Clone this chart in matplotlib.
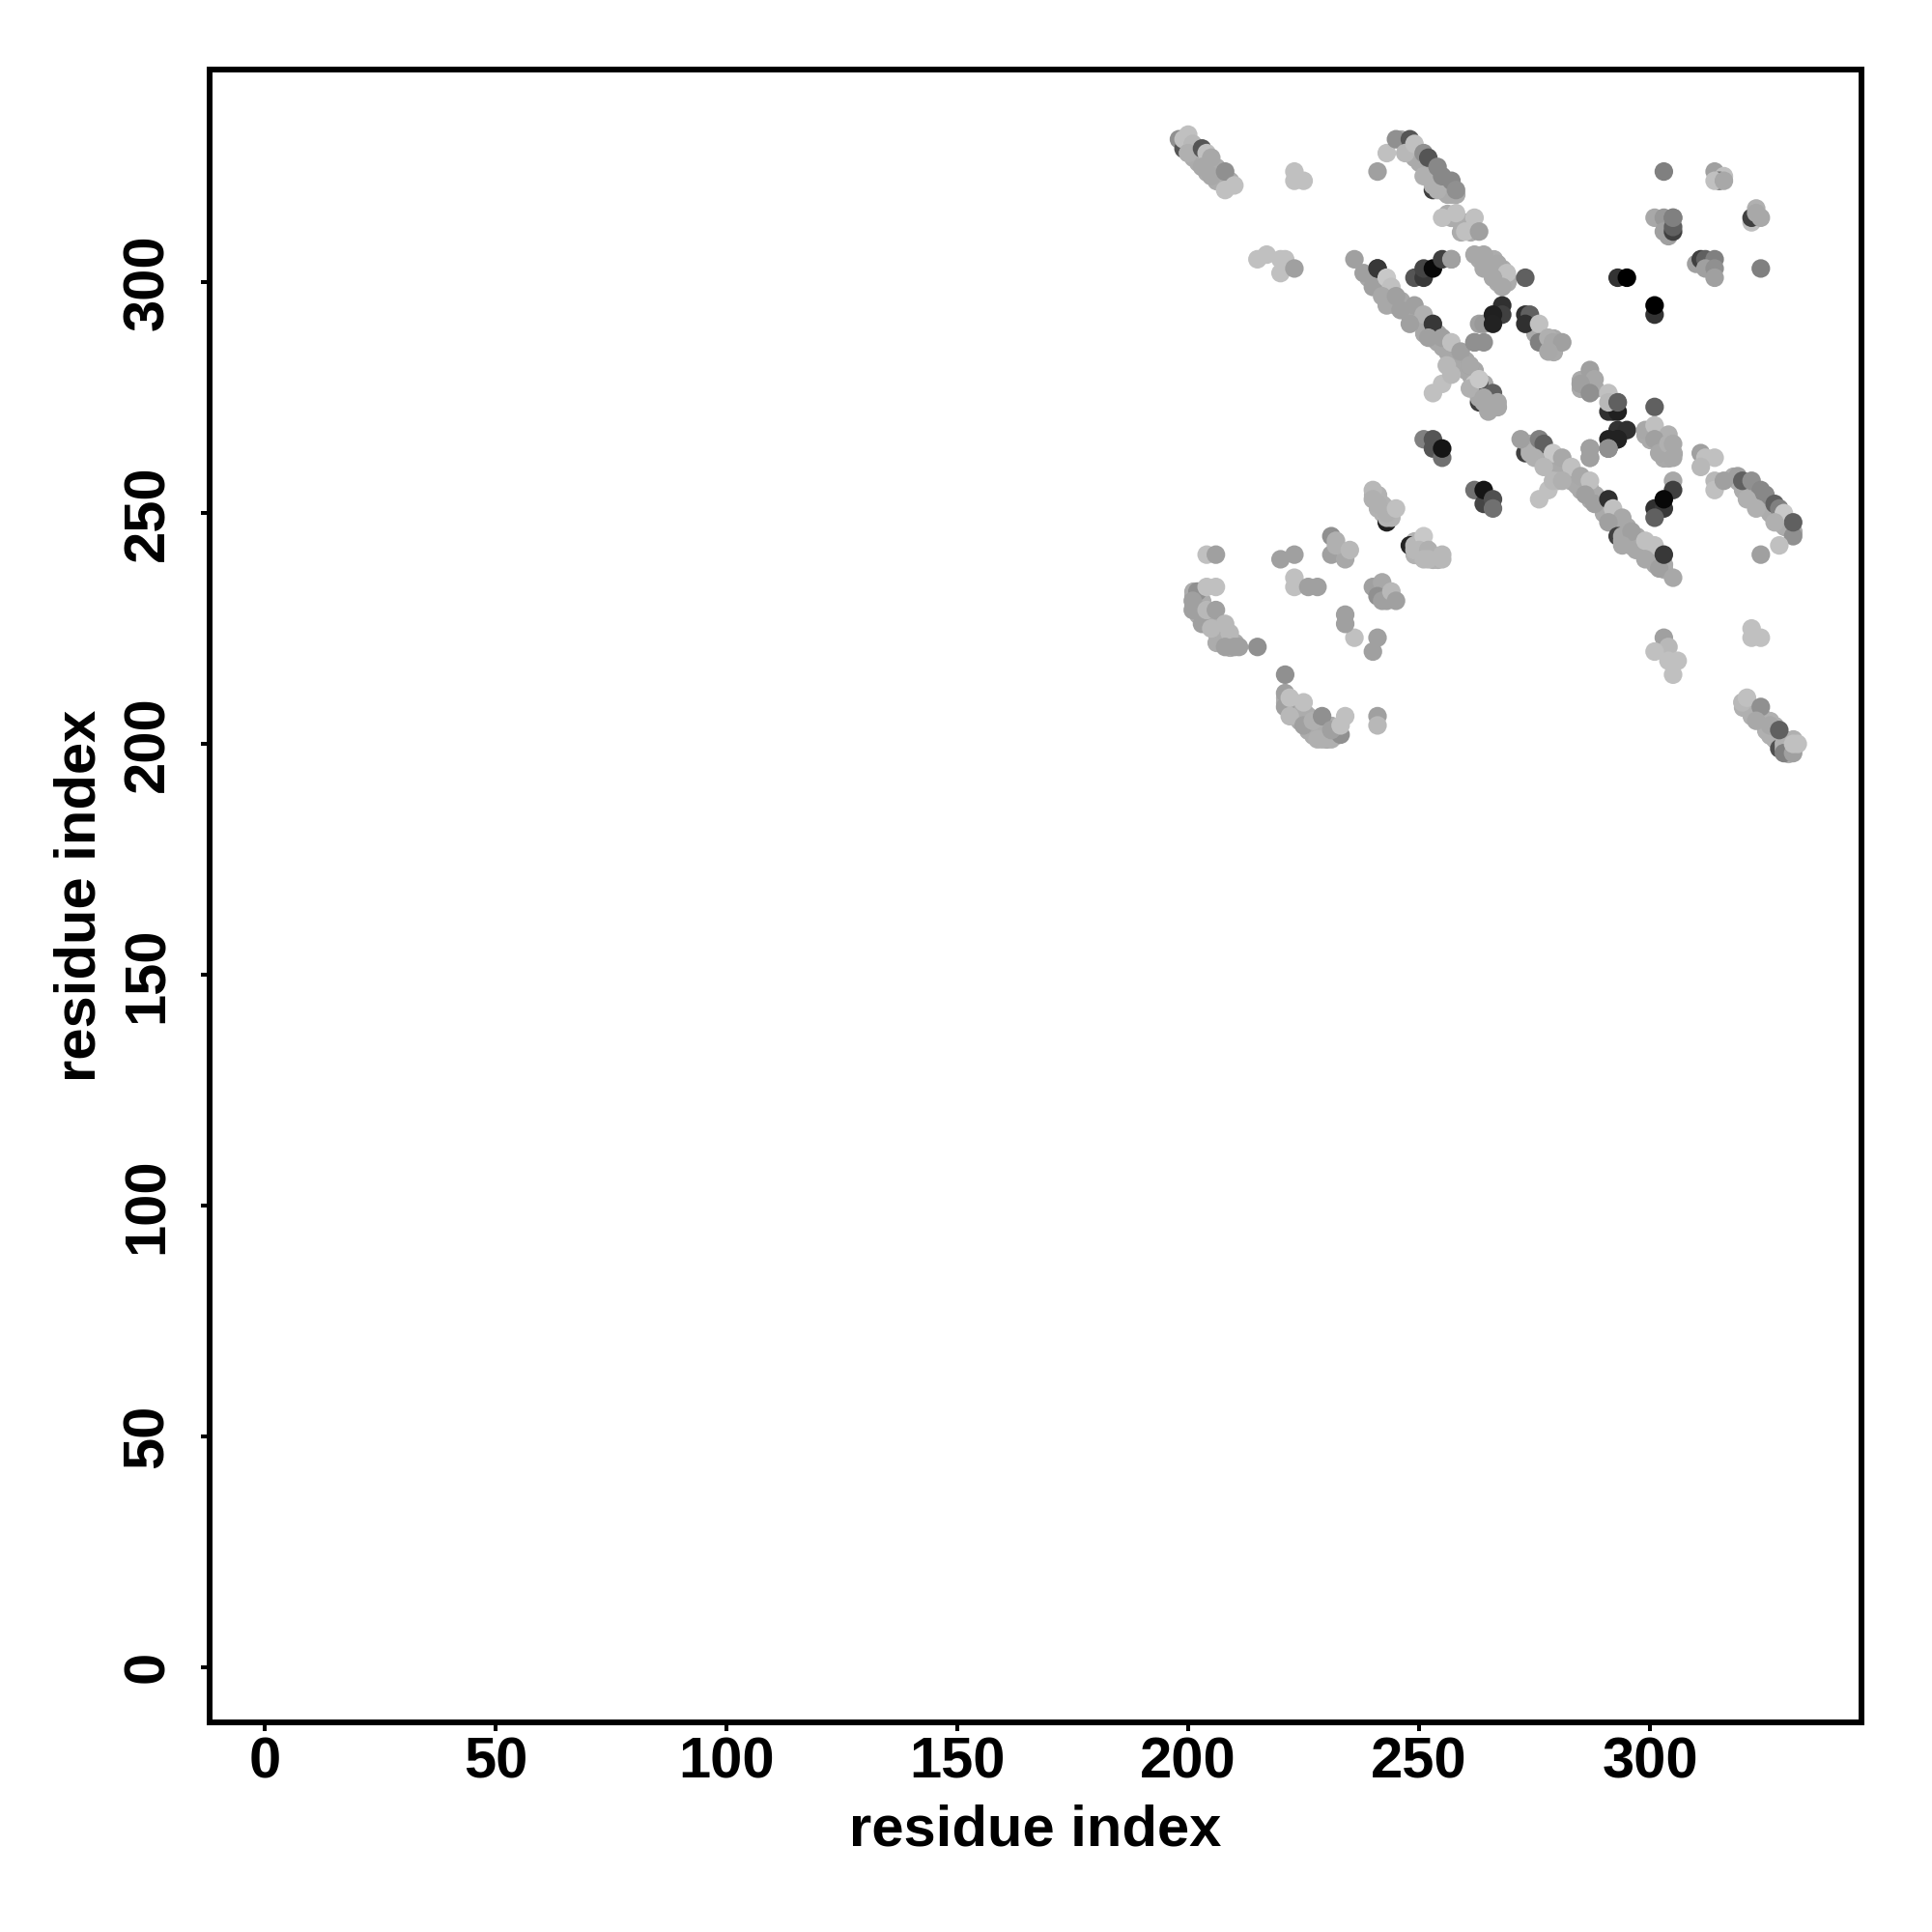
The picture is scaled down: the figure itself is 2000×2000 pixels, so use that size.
import matplotlib
matplotlib.use("Agg")
import matplotlib.pyplot as plt

plt.rcParams['font.family'] = ['Liberation Sans', 'DejaVu Sans']
plt.rcParams['font.weight'] = 'bold'

# contact points: residue x, residue y, grey level (0-255)
# top left strand
x_a = [198, 199, 199, 200, 200, 201, 200, 203, 204, 205, 203, 205, 208, 208, 210]
y_a = [331, 329, 331, 328, 332, 330, 328, 329, 328, 327, 325, 323, 324, 320, 321]
g_a = [144, 85, 192, 176, 192, 184, 176, 85, 192, 168, 168, 168, 144, 192, 192]

# small groups along the top
x_b = [223, 223, 225, 215, 217, 220, 221, 220, 223]
y_b = [324, 322, 322, 305, 306, 305, 305, 302, 303]
g_b = [192, 192, 192, 192, 192, 192, 192, 192, 160]

# upper strand 241-258
x_c = [253, 254, 241, 243, 245, 248, 247, 249, 251, 252, 251, 253, 254, 255, 257, 258]
y_c = [320, 320, 324, 328, 331, 331, 328, 330, 328, 327, 323, 321, 325, 323, 322, 320]
g_c = [64, 176, 160, 192, 144, 85, 184, 192, 144, 85, 176, 176, 136, 136, 136, 144]

x_d = [255, 258, 260, 262, 263, 257, 262, 264, 267, 269, 268, 264, 266, 273]
y_d = [314, 315, 311, 314, 311, 305, 306, 306, 304, 302, 299, 303, 301, 301]
g_d = [192, 192, 192, 192, 160, 160, 168, 168, 168, 192, 168, 168, 168, 96]

# main diagonal, upper half
x_e = [236, 241, 238, 240, 241, 243, 244, 242, 243, 245, 246, 249, 251, 248, 253,
       252, 255, 257, 259, 261, 256, 262, 263, 263, 264, 263, 253, 255, 257, 262, 263, 266,
       261, 264, 261, 263, 267, 265]
y_e = [305, 303, 302, 299, 303, 301, 299, 297, 295, 297, 294, 295, 293, 291, 291,
       288, 288, 287, 285, 282, 282, 287, 291, 274, 274, 275, 276, 278, 280, 278, 278, 276,
       277, 275, 282, 279, 274, 272]
g_e = [160, 56, 160, 160, 56, 200, 192, 168, 168, 160, 160, 160, 176, 160, 56,
       160, 160, 192, 160, 160, 184, 144, 160, 64, 168, 168, 192, 192, 184, 200, 85, 96,
       176, 168, 168, 200, 168, 168]

# dark groups
x_f = [249, 251, 251, 253, 255, 257, 293, 295, 301, 301, 264, 268, 268, 266, 266,
       262, 264, 303, 292, 293, 293, 295, 291, 293, 291, 293, 291, 287, 287]
y_f = [301, 301, 303, 303, 305, 305, 301, 301, 293, 295, 291, 295, 293, 293, 291,
       287, 287, 324, 272, 274, 268, 268, 264, 266, 266, 266, 264, 264, 262]
g_f = [85, 56, 69, 8, 64, 160, 51, 0, 51, 0, 153, 48, 64, 32, 34,
       144, 144, 128, 32, 96, 51, 48, 144, 34, 34, 34, 144, 160, 160]

# upper right scattered groups
x_g = [314, 316, 315, 314, 316, 322, 322, 323, 323, 324, 301, 303, 305, 303, 304, 305, 305, 305,
       310, 311, 312, 314, 312, 314, 314, 324, 301]
y_g = [324, 323, 322, 322, 322, 313, 314, 316, 315, 314, 314, 314, 314, 311, 310, 311, 312, 314,
       304, 305, 305, 305, 303, 303, 301, 303, 273]
g_g = [160, 192, 96, 192, 168, 192, 64, 176, 168, 168, 168, 152, 128, 160, 160, 64, 96, 128,
       160, 64, 96, 128, 160, 144, 160, 128, 96]

x_h = [273, 274, 273, 276, 276, 278, 279, 281, 278, 287, 288, 285, 287, 291, 291, 293, 291, 293]
y_h = [293, 293, 291, 291, 287, 288, 287, 287, 285, 281, 279, 278, 276, 276, 272, 272, 274, 274]
g_h = [48, 96, 48, 192, 128, 176, 168, 160, 168, 160, 168, 160, 144, 192, 48, 32, 184, 96]

# main diagonal, lower half
x_i = [273, 274, 274, 272, 276, 277, 279, 275, 277, 280, 281, 283, 285, 287, 286, 288, 291, 292, 294,
       291, 293, 294, 294, 296, 294, 297, 299, 301, 299, 302, 303, 305]
y_i = [263, 264, 263, 266, 266, 265, 263, 262, 260, 257, 262, 260, 258, 257, 254, 252, 253, 251, 249,
       248, 245, 245, 244, 246, 243, 242, 244, 243, 240, 238, 241, 236]
g_i = [64, 168, 176, 160, 128, 96, 200, 176, 184, 176, 168, 192, 168, 192, 160, 160, 48, 192, 168,
       160, 64, 168, 168, 160, 168, 168, 192, 192, 168, 160, 56, 168]

x_j = [251, 253, 253, 255, 255, 262, 264, 264, 266, 266, 276, 278, 279, 281]
y_j = [266, 266, 264, 262, 264, 255, 252, 255, 253, 251, 253, 255, 257, 257]
g_j = [128, 85, 85, 112, 21, 112, 69, 21, 80, 112, 192, 192, 184, 176]

x_k = [299, 301, 304, 301, 302, 304, 305, 305, 305, 305, 301, 303, 303, 301]
y_k = [268, 269, 267, 266, 263, 265, 265, 262, 257, 255, 251, 251, 253, 249]
g_k = [168, 192, 176, 160, 168, 176, 168, 168, 168, 64, 48, 56, 8, 96]

# lower right strands
x_l = [287, 287, 291, 311, 312, 314, 311, 314, 314, 316, 319, 320, 322, 324, 325, 327, 328,
       329, 331, 331, 327, 323, 321, 328, 324]
y_l = [264, 262, 264, 263, 262, 262, 260, 257, 255, 257, 258, 257, 257, 255, 254, 252, 251,
       250, 245, 248, 248, 251, 253, 243, 241]
g_l = [160, 160, 144, 160, 192, 192, 184, 184, 192, 160, 160, 96, 144, 136, 136, 96, 128,
       200, 144, 96, 176, 176, 176, 192, 160]

x_m = [303, 304, 301, 306, 304, 305, 322, 322, 324, 320, 321, 324, 323, 326, 328, 329, 329,
       329, 328, 331, 331, 332]
y_m = [223, 221, 220, 218, 218, 215, 225, 223, 223, 209, 210, 208, 205, 204, 199, 199, 200,
       198, 203, 198, 200, 200]
g_m = [160, 184, 192, 192, 192, 192, 192, 192, 192, 184, 192, 144, 168, 168, 80, 168, 176,
       128, 96, 160, 192, 192]

# lower middle groups
x_n = [243, 243, 244, 240, 240, 241, 243, 245, 243, 248, 249, 249, 251, 250, 252, 252, 255, 251, 255]
y_n = [248, 249, 249, 255, 253, 252, 250, 251, 231, 243, 243, 242, 245, 242, 242, 240, 241, 240, 240]
g_n = [32, 180, 180, 184, 176, 176, 176, 192, 160, 37, 184, 184, 200, 184, 176, 184, 184, 184, 184]

x_o = [240, 242, 241, 242, 244, 245, 231, 232, 231, 234, 232, 235, 234, 236, 234, 241, 240,
       241, 241, 223, 223, 220, 223, 226, 228]
y_o = [234, 235, 232, 231, 233, 231, 245, 244, 241, 240, 243, 242, 228, 223, 226, 223, 220,
       206, 204, 236, 234, 240, 241, 234, 234]
g_o = [160, 168, 144, 160, 184, 160, 144, 176, 160, 168, 176, 184, 160, 192, 160, 160, 160,
       160, 184, 192, 192, 160, 160, 160, 160]

# lower left strands
x_p = [204, 206, 202, 204, 206, 201, 201, 203, 204, 206, 208, 209, 205, 208, 210, 211, 215]
y_p = [241, 241, 233, 234, 234, 231, 229, 226, 229, 229, 226, 224, 225, 221, 221, 221, 221]
g_p = [192, 160, 144, 192, 192, 160, 160, 160, 184, 160, 184, 184, 184, 160, 160, 160, 144]

x_q = [221, 221, 221, 222, 225, 222, 225, 227, 229, 228, 229, 231, 233, 231, 234, 233]
y_q = [215, 211, 208, 210, 209, 206, 204, 205, 206, 201, 201, 201, 202, 203, 206, 204]
g_q = [144, 160, 160, 192, 192, 184, 160, 176, 144, 176, 176, 176, 144, 160, 192, 192]

# points hidden inside the dense strands, drawn first so the ones above sit on top
dense_a = [(199, 329), (200, 330), (201, 329), (202, 328), (201, 327), (202, 326), (203, 327),
           (204, 326), (203, 326), (204, 324), (205, 325), (206, 325), (206, 324), (205, 324),
           (206, 323), (207, 323), (206, 322), (207, 322), (208, 322), (209, 322), (208, 321)]
dense_c = [(246, 331), (247, 330), (248, 329), (249, 328), (248, 328), (249, 327), (250, 326),
           (250, 327), (251, 326), (252, 325), (251, 325), (252, 324), (253, 324), (252, 323),
           (253, 323), (254, 322), (253, 322), (254, 321), (255, 321), (255, 320), (256, 320),
           (256, 319), (257, 319), (256, 321), (257, 320), (258, 319)]
dense_d = [(263, 305), (265, 305), (266, 305), (264, 304), (265, 304), (266, 304), (267, 303),
           (265, 303), (266, 302), (267, 302), (268, 301), (267, 301), (267, 300), (268, 300),
           (269, 300), (266, 303), (268, 303), (269, 301), (256, 315), (257, 314), (259, 313),
           (260, 313), (261, 312), (259, 311), (261, 311)]
dense_e = [(239, 301), (240, 301), (240, 300), (241, 300), (241, 299), (242, 299), (242, 298),
           (243, 298), (243, 297), (244, 298), (244, 297), (244, 296), (245, 296), (245, 295),
           (246, 296), (246, 295), (247, 295), (247, 294), (248, 294), (248, 293), (249, 294),
           (249, 293), (249, 292), (250, 292), (251, 291), (251, 292), (252, 290), (251, 289),
           (252, 289), (253, 289), (253, 288), (254, 289), (254, 287), (255, 287), (255, 286),
           (256, 287), (256, 286), (256, 285), (257, 285), (257, 284), (258, 285), (258, 284),
           (258, 283), (259, 283), (259, 282), (260, 283), (260, 282), (260, 281), (261, 281),
           (261, 280), (262, 280), (262, 281), (262, 279), (263, 279), (263, 277), (264, 278),
           (264, 276), (264, 275), (265, 275), (265, 274), (265, 273), (266, 274), (266, 273),
           (264, 274), (267, 273), (263, 276)]
dense_h = [(275, 289), (277, 287), (278, 286), (279, 285), (279, 288), (286, 279), (286, 278),
           (285, 279), (287, 278), (288, 277), (285, 277)]
dense_i = [(273, 265), (274, 265), (274, 264), (275, 264), (275, 263), (276, 264), (276, 263),
           (276, 262), (277, 263), (277, 262), (278, 261), (278, 262), (279, 261), (279, 260),
           (280, 260), (280, 259), (281, 259), (281, 260), (282, 259), (282, 258), (283, 258),
           (283, 257), (284, 258), (284, 257), (284, 256), (285, 256), (285, 255), (286, 256),
           (286, 255), (287, 255), (287, 253), (288, 253), (288, 254), (289, 253), (289, 252),
           (290, 252), (290, 251), (290, 250), (291, 251), (291, 250), (292, 250), (292, 249),
           (292, 248), (293, 249), (293, 248), (293, 247), (294, 247), (294, 246), (295, 247),
           (295, 246), (295, 245), (296, 244), (296, 243), (297, 245), (297, 244), (298, 243),
           (298, 242), (299, 242), (299, 241), (300, 241), (300, 240), (301, 240), (301, 239),
           (302, 240), (302, 239), (303, 239), (303, 238)]
dense_k = [(299, 267), (300, 267), (300, 266), (301, 267), (302, 267), (302, 265), (303, 265),
           (303, 266), (304, 264), (304, 263), (305, 263), (303, 263), (303, 262), (304, 262)]
dense_l = [(318, 258), (319, 257), (320, 256), (320, 255), (321, 256), (321, 255), (321, 254),
           (322, 255), (322, 254), (322, 253), (323, 254), (323, 253), (323, 252), (324, 253),
           (324, 252), (325, 253), (325, 252), (325, 251), (326, 251), (326, 250), (327, 250),
           (327, 249), (328, 249), (328, 248), (329, 249), (329, 248), (330, 248), (330, 247),
           (331, 246), (329, 247)]
dense_m = [(320, 208), (321, 208), (322, 207), (322, 206), (323, 207), (323, 206), (324, 206),
           (324, 205), (325, 205), (326, 205), (326, 203), (327, 202), (327, 201), (328, 201),
           (328, 200), (329, 201), (329, 200), (329, 199), (330, 199), (330, 198), (331, 199),
           (331, 201), (326, 202), (325, 203), (327, 204)]
dense_n = [(240, 254), (241, 254), (241, 253), (242, 252), (243, 251), (242, 250), (241, 251),
           (249, 243), (249, 241), (250, 243), (251, 243), (252, 241), (253, 241), (253, 240),
           (254, 240), (249, 244)]
dense_p = [(201, 233), (201, 232), (201, 230), (202, 232), (202, 231), (202, 229), (202, 228),
           (203, 228), (203, 227), (203, 231), (203, 230), (204, 227), (204, 226), (205, 227),
           (205, 226), (206, 226), (206, 225), (206, 224), (207, 226), (207, 225), (207, 224),
           (207, 223), (208, 225), (208, 223), (208, 222), (209, 222), (209, 221), (210, 222),
           (206, 222)]
dense_q = [(221, 210), (221, 209), (222, 209), (222, 208), (222, 207), (223, 209), (223, 208),
           (223, 207), (223, 206), (224, 208), (224, 206), (224, 205), (225, 207), (225, 205),
           (226, 206), (226, 204), (226, 203), (227, 204), (227, 203), (227, 202), (228, 204),
           (228, 203), (228, 202), (229, 203), (229, 202), (230, 202), (230, 201), (230, 203),
           (231, 202), (232, 203), (232, 202), (231, 204)]
dense_groups = [dense_a, dense_c, dense_d, dense_e, dense_h, dense_i, dense_k, dense_l, dense_m,
                dense_n, dense_p, dense_q]
dense_greys = [172, 170, 172, 168, 170, 170, 170, 172, 176, 178, 172, 172]

res_x = x_a + x_b + x_c + x_d + x_e + x_f + x_g + x_h + x_i + x_j + x_k + x_l + x_m + x_n + x_o + x_p + x_q
res_y = y_a + y_b + y_c + y_d + y_e + y_f + y_g + y_h + y_i + y_j + y_k + y_l + y_m + y_n + y_o + y_p + y_q
shade = g_a + g_b + g_c + g_d + g_e + g_f + g_g + g_h + g_i + g_j + g_k + g_l + g_m + g_n + g_o + g_p + g_q
colors = [(g / 255, g / 255, g / 255) for g in shade]

ticks = [0, 50, 100, 150, 200, 250, 300]

fig = plt.figure(figsize=(10, 10), dpi=200)
ax = fig.add_axes([217 / 2000, 1 - 1783 / 2000, 1710 / 2000, 1711 / 2000])

for pts, g in zip(dense_groups, dense_greys):
    ax.scatter([p[0] for p in pts], [p[1] for p in pts], s=48, color=(g / 255, g / 255, g / 255),
               linewidths=0, zorder=2)
ax.scatter(res_x, res_y, s=48, c=colors, linewidths=0, zorder=3)

ax.set_xlim(-11.9, 345.8)
ax.set_ylim(-12.0, 346.1)
ax.set_xticks(ticks)
ax.set_yticks(ticks)
ax.tick_params(axis='x', length=3.1, width=1.45, labelsize=21.5, pad=2.0)
ax.tick_params(axis='y', length=3.1, width=1.45, labelsize=21.5, pad=9.9)
plt.setp(ax.get_yticklabels(), rotation=90, va='center')
for s in ax.spines.values():
    s.set_linewidth(2.15)

ax.set_xlabel("residue index", fontsize=21.5, fontweight='bold')
ax.set_ylabel("residue index", fontsize=21.5, fontweight='bold')
ax.xaxis.set_label_coords(0.5, -0.0495)
ax.yaxis.set_label_coords(-0.0623, 0.5)

fig.savefig("out.png", dpi=200, facecolor='white')
